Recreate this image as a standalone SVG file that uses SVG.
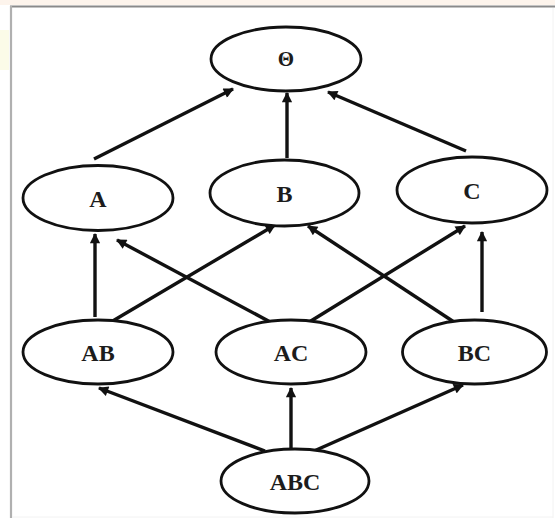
<svg xmlns="http://www.w3.org/2000/svg" width="555" height="520" viewBox="0 0 555 520">
<defs>
<style>
.n ellipse{fill:#fff;stroke:#111;stroke-width:2.8}
.n text{font-family:"Liberation Serif","Times New Roman",serif;font-weight:bold;font-size:24px;fill:#1c1c1c;text-anchor:middle}
.e line{stroke:#111;stroke-width:3.4;marker-end:url(#ah)}
</style>
<marker id="ah" viewBox="0 0 10 10" refX="9" refY="5" markerWidth="3.4" markerHeight="3" orient="auto" markerUnits="strokeWidth">
<path d="M0,0 L10,5 L0,10 z" fill="#111"/>
</marker>
</defs>
<rect x="0" y="0" width="555" height="520" fill="#fff"/>
<rect x="0" y="0" width="555" height="5" fill="#fdf4ec"/>
<rect x="0" y="30" width="9" height="40" fill="#fbfbe8"/>
<line x1="10" y1="6.5" x2="555" y2="6.5" stroke="#8a8a8a" stroke-width="2.2"/>
<line x1="11" y1="6" x2="11" y2="518" stroke="#b0b0b0" stroke-width="2.2"/>
<line x1="553" y1="8" x2="553" y2="518" stroke="#f2f2f2" stroke-width="1"/>
<line x1="12" y1="517" x2="553" y2="517" stroke="#f2f2f2" stroke-width="1"/>
<g class="e" id="connectors">
<line x1="94" y1="159" x2="233" y2="89"/>
<line x1="287" y1="158" x2="287" y2="93"/>
<line x1="466" y1="151" x2="328" y2="92"/>
<line x1="95" y1="317" x2="95" y2="234"/>
<line x1="111" y1="322" x2="275" y2="225"/>
<line x1="274" y1="324" x2="117" y2="240"/>
<line x1="306" y1="324" x2="465" y2="226"/>
<line x1="454" y1="322" x2="308" y2="226"/>
<line x1="482" y1="312" x2="482" y2="232"/>
<line x1="265" y1="451" x2="99" y2="388"/>
<line x1="291" y1="451" x2="291" y2="388"/>
<line x1="314" y1="451" x2="463" y2="385"/>
</g>
<g class="n" id="theta"><ellipse cx="286" cy="59" rx="75" ry="32"/><text x="286" y="66" style="font-size:21px">Θ</text></g>
<g class="n" id="A"><ellipse cx="98" cy="198" rx="75" ry="32.5"/><text x="98" y="207">A</text></g>
<g class="n" id="B"><ellipse cx="284.5" cy="193" rx="74.5" ry="33"/><text x="284.5" y="202">B</text></g>
<g class="n" id="C"><ellipse cx="472" cy="190" rx="75" ry="33"/><text x="472" y="199">C</text></g>
<g class="n" id="AB"><ellipse cx="98" cy="352" rx="75" ry="32"/><text x="98" y="361">AB</text></g>
<g class="n" id="AC"><ellipse cx="291" cy="352" rx="75" ry="32"/><text x="291" y="361">AC</text></g>
<g class="n" id="BC"><ellipse cx="474.5" cy="352" rx="72" ry="32"/><text x="474.5" y="361">BC</text></g>
<g class="n" id="ABC"><ellipse cx="295" cy="481" rx="74" ry="32"/><text x="295" y="490">ABC</text></g>
</svg>
